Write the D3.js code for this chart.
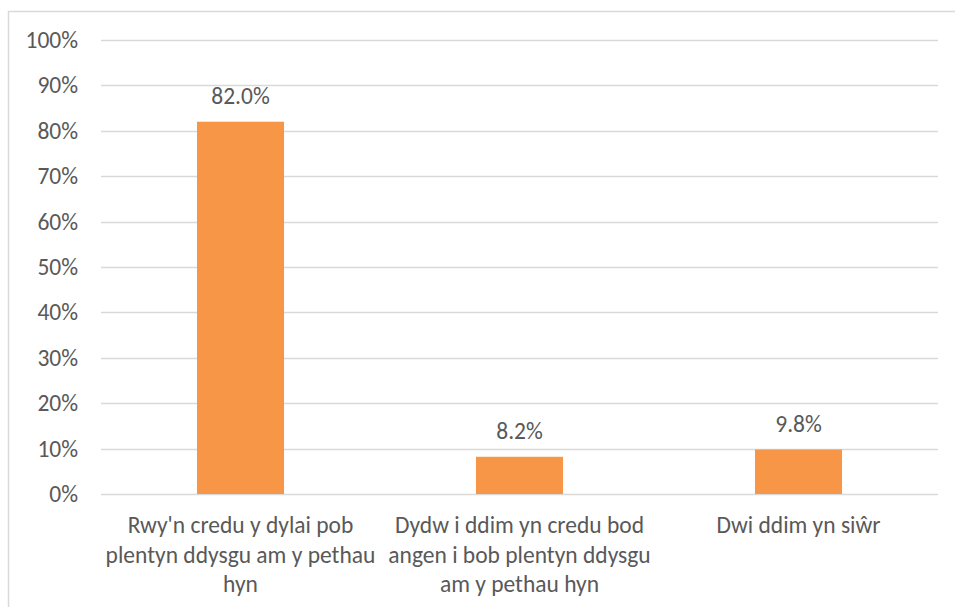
<!DOCTYPE html>
<html>
<head>
<meta charset="utf-8">
<script src="https://cdn.jsdelivr.net/npm/d3@7"></script>
<style>
  body { margin: 0; background: #fff; }
  svg text { font-family: Carlito, Calibri, Lato, sans-serif; fill: #595959; }
</style>
</head>
<body>
<div id="chart"></div>
<script>
var categories = [
    "Rwy'n credu y dylai pob plentyn ddysgu am y pethau hyn",
    "Dydw i ddim yn credu bod angen i bob plentyn ddysgu am y pethau hyn",
    "Dwi ddim yn siŵr"
];
var values = [0.82, 0.082, 0.098];
var valueLabels = ["82.0%", "8.2%", "9.8%"];
var yTicks = [0, 0.1, 0.2, 0.3, 0.4, 0.5, 0.6, 0.7, 0.8, 0.9, 1.0];

var width = 955,
    height = 607,
    margin = {top: 40, right: 17, bottom: 113, left: 101},
    fontSize = "23.5px";

var svg = d3.select("#chart").append("svg")
    .attr("width", width)
    .attr("height", height);

// outer chart border (runs off the right / bottom edge)
svg.append("rect")
    .attr("x", 8.5).attr("y", 11.5)
    .attr("width", 960).attr("height", 620)
    .attr("fill", "none")
    .attr("stroke", "#d9d9d9")
    .attr("stroke-width", 1.5);

var x = d3.scaleBand()
    .domain(categories)
    .range([margin.left, width - margin.right])
    .paddingInner(0.688)
    .paddingOuter(0.344);

var y = d3.scaleLinear()
    .domain([0, 1])
    .range([height - margin.bottom, margin.top]);

// gridlines
svg.append("g").selectAll("line")
    .data(yTicks)
    .enter().append("line")
    .attr("x1", margin.left)
    .attr("x2", width - margin.right)
    .attr("y1", function (d) { return Math.round(y(d)) + 0.5; })
    .attr("y2", function (d) { return Math.round(y(d)) + 0.5; })
    .attr("stroke", "#d9d9d9")
    .attr("stroke-width", 1.3);

// y axis labels
var yAxis = d3.axisLeft(y)
    .tickValues(yTicks)
    .tickFormat(d3.format(".0%"))
    .tickSize(0)
    .tickPadding(23);

svg.append("g")
    .attr("transform", "translate(" + margin.left + ",0)")
    .call(yAxis)
    .call(function (g) { g.select(".domain").remove(); })
    .selectAll("text")
    .style("font-size", fontSize)
    .attr("fill", "#595959");

// bars
svg.append("g").selectAll("rect")
    .data(values)
    .enter().append("rect")
    .attr("x", function (d, i) { return x(categories[i]); })
    .attr("y", function (d) { return y(d); })
    .attr("width", x.bandwidth())
    .attr("height", function (d) { return y(0) - y(d); })
    .attr("fill", "#f79646");

// value labels
svg.append("g").selectAll("text")
    .data(values)
    .enter().append("text")
    .attr("x", function (d, i) { return x(categories[i]) + x.bandwidth() / 2; })
    .attr("y", function (d) { return y(d) - 18; })
    .attr("text-anchor", "middle")
    .style("font-size", fontSize)
    .text(function (d, i) { return valueLabels[i]; });

// category labels, wrapped to the band step
var step = x.step();
var catG = svg.append("g");
categories.forEach(function (c, i) {
    var cx = x(c) + x.bandwidth() / 2;
    var t = catG.append("text")
        .attr("text-anchor", "middle")
        .style("font-size", fontSize);
    var words = c.split(" "), line = [], lines = [];
    var probe = t.append("tspan");
    words.forEach(function (w) {
        line.push(w);
        probe.text(line.join(" "));
        if (probe.node().getComputedTextLength() > step + 8 && line.length > 1) {
            line.pop();
            lines.push(line.join(" "));
            line = [w];
        }
    });
    lines.push(line.join(" "));
    probe.remove();
    lines.forEach(function (l, k) {
        t.append("tspan")
            .attr("x", cx)
            .attr("y", y(0) + 39 + k * 29.5)
            .text(l);
    });
});
</script>
</body>
</html>
